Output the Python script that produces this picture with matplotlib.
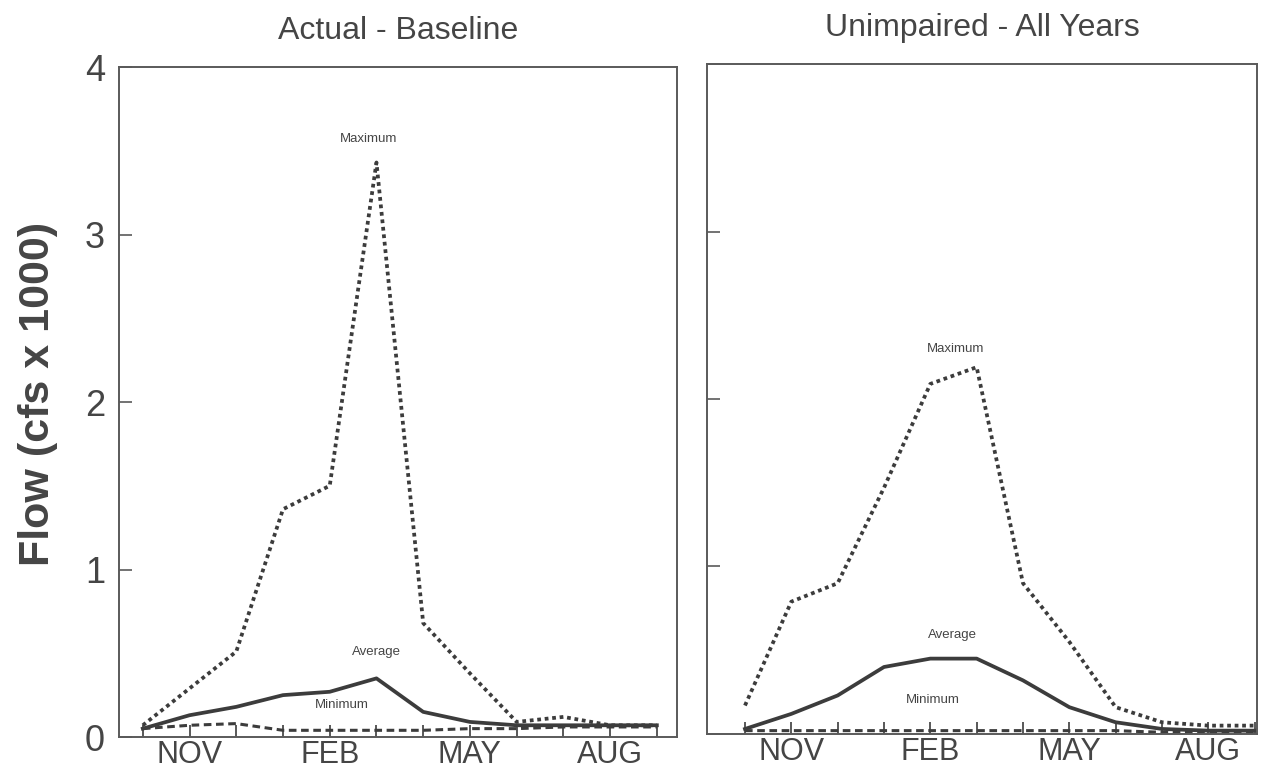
import matplotlib
matplotlib.use("Agg")
import matplotlib.pyplot as plt

plt.rcParams["font.family"] = "Liberation Sans"

# Monthly flow (cfs x 1000), water year Oct-Sep
months = ["OCT", "NOV", "DEC", "JAN", "FEB", "MAR", "APR", "MAY", "JUN", "JUL", "AUG", "SEP"]
shown_months = ["NOV", "FEB", "MAY", "AUG"]

actual_max = [0.07, 0.29, 0.51, 1.36, 1.50, 3.43, 0.68, 0.38, 0.09, 0.12, 0.07, 0.07]
actual_avg = [0.05, 0.13, 0.18, 0.25, 0.27, 0.35, 0.15, 0.09, 0.07, 0.07, 0.07, 0.07]
actual_min = [0.05, 0.07, 0.08, 0.04, 0.04, 0.04, 0.04, 0.05, 0.05, 0.06, 0.06, 0.06]

unimp_max = [0.17, 0.79, 0.90, 1.47, 2.09, 2.19, 0.90, 0.55, 0.16, 0.07, 0.05, 0.05]
unimp_avg = [0.03, 0.12, 0.23, 0.40, 0.45, 0.45, 0.32, 0.16, 0.07, 0.03, 0.02, 0.02]
unimp_min = [0.02, 0.02, 0.02, 0.02, 0.02, 0.02, 0.02, 0.02, 0.02, 0.01, 0.01, 0.01]

line_color = "#3c3c3c"
text_color = "#454545"
spine_color = "#5a5a5a"

fig = plt.figure(figsize=(12.67, 7.74), dpi=100)
ax1 = fig.add_axes([0.0939, 0.0478, 0.4404, 0.8656])
ax2 = fig.add_axes([0.558, 0.0517, 0.4341, 0.8656])

x = list(range(len(months)))


def draw_panel(ax, mx, avg, mn, title, xlim, labels_pos, title_pad):
    ax.plot(x, mx, color=line_color, linestyle=(0, (1, 1)), linewidth=2.7)
    ax.plot(x, avg, color=line_color, linestyle="-", linewidth=2.7)
    ax.plot(x, mn, color=line_color, linestyle=(0, (2.5, 1.5)), linewidth=2.2)

    ax.set_xlim(*xlim)
    ax.set_ylim(0, 4)
    ax.set_xticks(x)
    ax.set_xticklabels([m if m in shown_months else "" for m in months])
    ax.set_yticks([0, 1, 2, 3, 4])
    ax.tick_params(axis="x", direction="in", length=9, width=1.2, color=line_color,
                   labelsize=22, labelcolor=text_color, pad=2)
    ax.tick_params(axis="y", direction="in", length=9, width=1.2, color=spine_color,
                   labelsize=26, labelcolor=text_color, pad=10)
    for s in ax.spines.values():
        s.set_color(spine_color)
        s.set_linewidth(1.4)
    ax.set_title(title, fontsize=23, color=text_color, pad=title_pad)

    for label, (lx, ly) in labels_pos.items():
        ax.text(lx, ly, label, fontsize=9.5, color=text_color, ha="center", va="center")


draw_panel(ax1, actual_max, actual_avg, actual_min, "Actual - Baseline", (-0.51, 11.43),
           {"Maximum": (4.83, 3.57), "Average": (5.0, 0.51), "Minimum": (4.26, 0.19)}, 20)
draw_panel(ax2, unimp_max, unimp_avg, unimp_min, "Unimpaired - All Years", (-0.82, 11.05),
           {"Maximum": (4.55, 2.30), "Average": (4.48, 0.59), "Minimum": (4.05, 0.20)}, 20)

ax2.set_yticklabels([])
ax1.set_ylabel("Flow (cfs x 1000)", fontsize=31, fontweight="bold", color=text_color)
ax1.yaxis.set_label_coords(-0.109, 0.512)

fig.savefig("out.png", dpi=100)
